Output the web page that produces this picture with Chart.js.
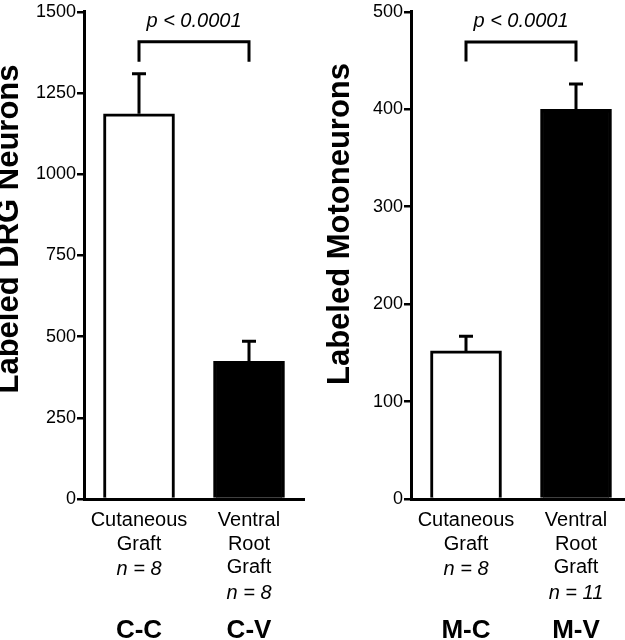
<!DOCTYPE html>
<html>
<head>
<meta charset="utf-8">
<script src="https://cdn.jsdelivr.net/npm/chart.js@4.4.0/dist/chart.umd.min.js"></script>
<style>
  html, body { margin: 0; padding: 0; background: #fff; overflow: hidden; width: 625px; height: 640px; }
  canvas { position: absolute; top: 0; }
  #drgChart { left: 0; }
  #mnChart { left: 312px; }
</style>
</head>
<body>
<canvas id="drgChart" width="312" height="640"></canvas>
<canvas id="mnChart" width="330" height="640"></canvas>
<script>
// left panel: DRG neurons
const drgCategories = [['Cutaneous', 'Graft'], ['Ventral', 'Root', 'Graft']];
const drgN = ['n = 8', 'n = 8'];
const drgCodes = ['C-C', 'C-V'];
const drgMeans = [1186, 424];
const drgErrors = [123, 62];
const drgTicks = [0, 250, 500, 750, 1000, 1250, 1500];
const drgBracket = [1408, 1346];

// right panel: motoneurons
const mnCategories = [['Cutaneous', 'Graft'], ['Ventral', 'Root', 'Graft']];
const mnN = ['n = 8', 'n = 11'];
const mnCodes = ['M-C', 'M-V'];
const mnMeans = [152, 400];
const mnErrors = [15, 26];
const mnTicks = [0, 100, 200, 300, 400, 500];
const mnBracket = [469, 449];

const pText = 'p < 0.0001';
const FONT = 'Arial, "Liberation Sans", Helvetica, sans-serif';
const LINE_H = 23.5;

function makeChart(id, opts) {
    const extras = {
        id: 'extras',
        afterDraw(chart) {
            const ctx = chart.ctx;
            const y = chart.scales.y;
            const x = chart.scales.x;
            const bars = chart.getDatasetMeta(0).data;
            ctx.save();
            ctx.strokeStyle = '#000';
            ctx.fillStyle = '#000';
            ctx.lineWidth = 3;
            ctx.lineCap = 'butt';

            // error bars (upper only)
            opts.means.forEach((m, i) => {
                const cx = bars[i].x;
                const yTop = y.getPixelForValue(m + opts.errors[i]);
                const yBar = y.getPixelForValue(m);
                ctx.beginPath();
                ctx.moveTo(cx, yBar);
                ctx.lineTo(cx, yTop);
                ctx.moveTo(cx - 7, yTop);
                ctx.lineTo(cx + 7, yTop);
                ctx.stroke();
            });

            // significance bracket
            const by = y.getPixelForValue(opts.bracket[0]);
            const bf = y.getPixelForValue(opts.bracket[1]);
            ctx.beginPath();
            ctx.moveTo(bars[0].x, bf);
            ctx.lineTo(bars[0].x, by);
            ctx.lineTo(bars[1].x, by);
            ctx.lineTo(bars[1].x, bf);
            ctx.stroke();
            ctx.font = 'italic 20px ' + FONT;
            ctx.textAlign = 'center';
            ctx.textBaseline = 'alphabetic';
            ctx.fillText(pText, (bars[0].x + bars[1].x) / 2, by - 15);

            // n lines and group codes under category labels
            const firstBase = x.bottom - 141 + 29;
            opts.categories.forEach((lines, i) => {
                const cx = x.getPixelForValue(i);
                ctx.font = 'italic 20px ' + FONT;
                ctx.fillText(opts.n[i], cx, firstBase + lines.length * LINE_H);
                ctx.font = 'bold 26px ' + FONT;
                ctx.fillText(opts.codes[i], cx, 638);
            });

            // y axis title
            ctx.translate(opts.titleX, opts.titleY);
            ctx.rotate(-Math.PI / 2);
            ctx.font = 'bold 31px ' + FONT;
            ctx.fillText(opts.title, 0, 0);
            ctx.restore();
        }
    };

    return new Chart(document.getElementById(id), {
        type: 'bar',
        data: {
            labels: opts.categories,
            datasets: [{
                data: opts.means,
                backgroundColor: ['#ffffff', '#000000'],
                borderColor: '#000000',
                borderWidth: 3,
                borderSkipped: 'start',
                barThickness: 71
            }]
        },
        options: {
            responsive: false,
            animation: false,
            layout: { padding: { top: 11, left: 0, right: opts.padRight, bottom: 0 } },
            plugins: { legend: { display: false }, tooltip: { enabled: false } },
            scales: {
                x: {
                    z: 1,
                    grid: { display: false, drawTicks: false },
                    border: { display: true, color: '#000', width: 3 },
                    ticks: {
                        color: '#000',
                        font: { family: FONT, size: 20, lineHeight: LINE_H / 20 },
                        padding: 10,
                        maxRotation: 0,
                        autoSkip: false
                    },
                    afterFit: s => { s.height = 141; }
                },
                y: {
                    z: 1,
                    min: 0,
                    max: opts.ticks[opts.ticks.length - 1],
                    afterBuildTicks: s => { s.ticks = opts.ticks.map(v => ({ value: v })); },
                    grid: { display: true, drawOnChartArea: false, drawTicks: true, tickLength: 7, color: '#000', lineWidth: 2.5 },
                    border: { display: true, color: '#000', width: 3 },
                    ticks: { color: '#000', padding: 1, font: { family: FONT, size: 18 }, callback: v => String(v) },
                    afterFit: s => { s.width = opts.axisX; }
                }
            }
        },
        plugins: [extras]
    });
}

makeChart('drgChart', {
    categories: drgCategories, n: drgN, codes: drgCodes,
    means: drgMeans, errors: drgErrors, ticks: drgTicks, bracket: drgBracket,
    title: 'Labeled DRG Neurons', titleX: 18, titleY: 229,
    axisX: 84, padRight: 8
});

makeChart('mnChart', {
    categories: mnCategories, n: mnN, codes: mnCodes,
    means: mnMeans, errors: mnErrors, ticks: mnTicks, bracket: mnBracket,
    title: 'Labeled Motoneurons', titleX: 37, titleY: 224,
    axisX: 99, padRight: 11
});
</script>
</body>
</html>
